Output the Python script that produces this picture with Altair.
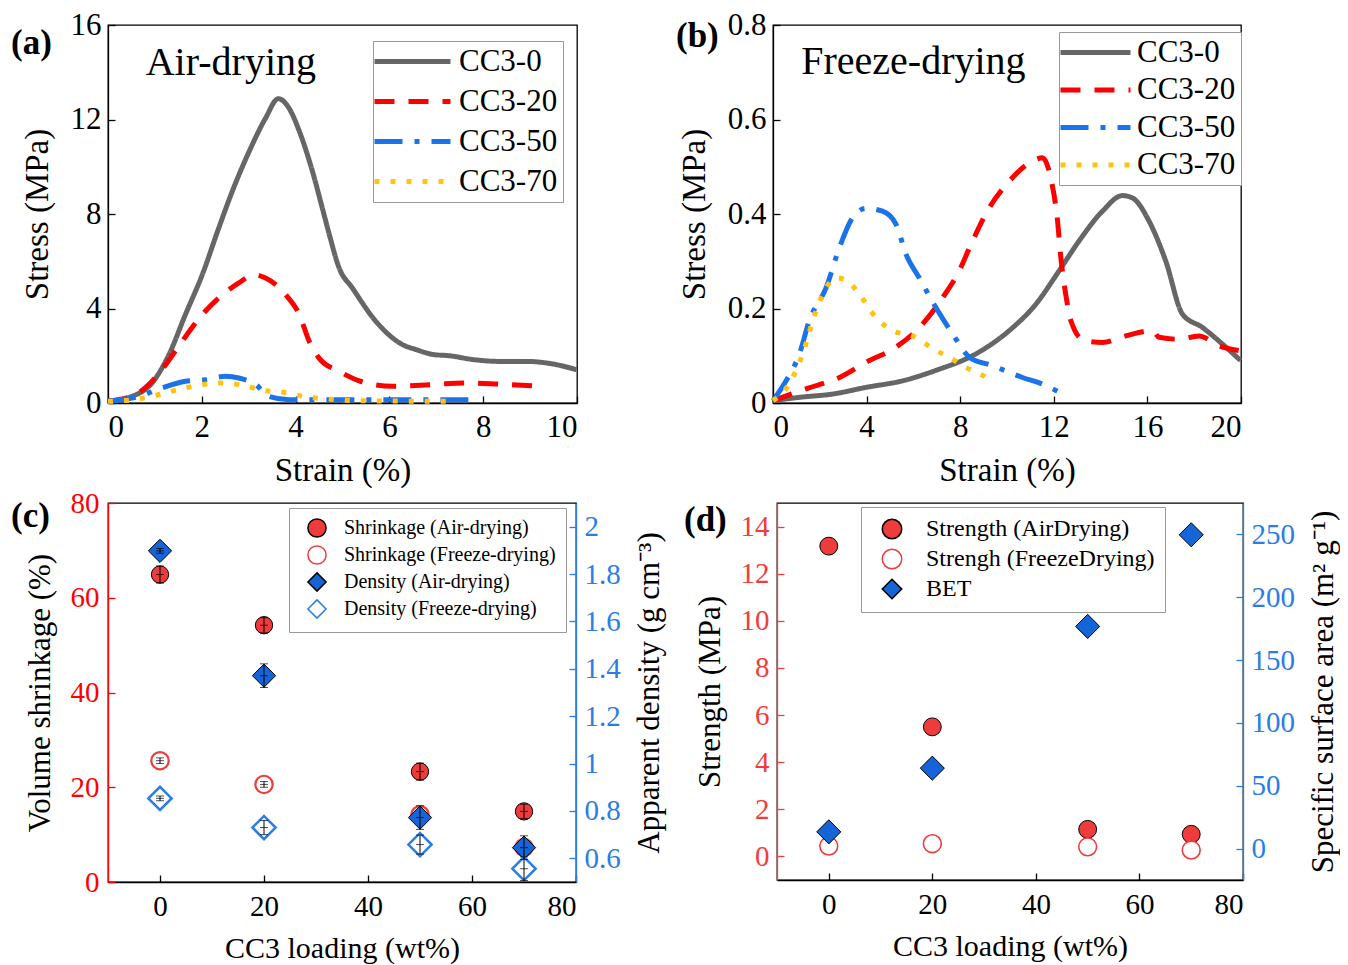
import altair as alt
import pandas as pd

FONT = "Liberation Serif"

# ---------------- (a) Air-drying stress-strain ----------------
SAMPLES = ["CC3-0", "CC3-20", "CC3-50", "CC3-70"]
LINE_COLORS = ["#666666", "#ff0000", "#1a73e8", "#ffc20e"]
LINE_DASHES = [[1, 0], [20, 14], [28, 12, 5, 12], [5, 11]]

a0_x = [0, 0.51, 0.94, 1.30, 1.65, 2.01, 2.36, 2.65, 3.01, 3.36, 3.63, 3.86, 4.08, 4.36, 4.57, 4.72, 4.93, 5.21, 5.71, 6.28, 6.57, 6.94, 7.28, 7.78, 8.35, 8.92, 9.49, 9.99]
a0_y = [0.07, 0.28, 0.85, 2.05, 3.74, 5.43, 7.4, 8.96, 10.65, 12.06, 12.88, 12.48, 11.5, 9.8, 8.25, 7.12, 5.71, 4.87, 3.46, 2.47, 2.26, 2.05, 2.0, 1.84, 1.76, 1.76, 1.65, 1.41]
a20_x = [0, 0.58, 0.94, 1.23, 1.58, 2.01, 2.44, 2.79, 3.11, 3.36, 3.79, 4.08, 4.29, 4.5, 4.93, 5.5, 6.07, 6.92, 7.64, 8.35, 9.27]
a20_y = [0.07, 0.35, 0.92, 1.62, 2.61, 3.74, 4.58, 5.08, 5.43, 5.29, 4.58, 3.74, 2.61, 1.9, 1.34, 0.85, 0.71, 0.78, 0.85, 0.8, 0.71]
a50_x = [0, 0.66, 1.15, 1.65, 2.08, 2.51, 2.79, 3.15, 3.43, 3.86, 4.79, 6.21, 7.85]
a50_y = [0.07, 0.28, 0.64, 0.92, 0.99, 1.13, 1.06, 0.78, 0.28, 0.14, 0.14, 0.14, 0.14]
a70_x = [0, 0.66, 1.01, 1.65, 2.01, 2.36, 2.69, 3.01, 3.36, 3.68, 4.29, 4.64, 5.29, 7.42]
a70_y = [0.07, 0.17, 0.32, 0.64, 0.78, 0.85, 0.8, 0.68, 0.52, 0.47, 0.24, 0.18, 0.1, 0.07]

# ---------------- (b) Freeze-drying stress-strain ----------------
b0_x = [0, 1.13, 2.55, 3.97, 5.54, 6.96, 8.67, 10.09, 11.23, 12.23, 13.08, 14.08, 14.93, 15.36, 16.07, 16.78, 17.5, 18.35, 19.2, 19.98]
b0_y = [0.005, 0.012, 0.019, 0.033, 0.047, 0.069, 0.104, 0.153, 0.209, 0.28, 0.343, 0.406, 0.439, 0.434, 0.385, 0.301, 0.188, 0.16, 0.125, 0.09]
b20_x = [0, 1.41, 2.84, 4.12, 5.12, 6.26, 7.25, 7.96, 8.53, 9.24, 10.09, 10.95, 11.52, 11.87, 12.16, 12.3, 12.51, 12.73, 13.3, 14.08, 15.07, 16.22, 16.5, 17.35, 18.2, 19.06, 19.9]
b20_y = [0.005, 0.03, 0.054, 0.09, 0.114, 0.16, 0.223, 0.28, 0.343, 0.413, 0.469, 0.508, 0.519, 0.476, 0.385, 0.308, 0.23, 0.174, 0.132, 0.128, 0.142, 0.153, 0.139, 0.135, 0.142, 0.121, 0.111]
b50_x = [0, 0.56, 1.13, 1.55, 2.27, 2.84, 3.4, 3.97, 4.68, 5.26, 5.68, 6.25, 6.96, 7.68, 8.39, 9.38, 10.66, 11.52, 12.23]
b50_y = [0.005, 0.047, 0.104, 0.174, 0.244, 0.329, 0.392, 0.412, 0.406, 0.378, 0.315, 0.265, 0.202, 0.146, 0.097, 0.079, 0.054, 0.04, 0.023]
b70_x = [0, 0.49, 0.84, 1.27, 1.77, 2.27, 2.72, 3.19, 3.69, 4.4, 5.12, 5.97, 6.96, 7.53, 8.1, 8.67, 9.17, 9.36]
b70_y = [0.005, 0.026, 0.054, 0.104, 0.185, 0.244, 0.265, 0.258, 0.23, 0.181, 0.153, 0.142, 0.111, 0.097, 0.079, 0.065, 0.051, 0.04]

# ---------------- (c) shrinkage & density ----------------
C_SERIES = ["Shrinkage (Air-drying)", "Shrinkage (Freeze-drying)", "Density (Air-drying)", "Density (Freeze-drying)"]
c_load = [0, 20, 50, 70]
c_shr_air = [64.9, 54.2, 23.3, 14.9]
c_shr_air_err = [1.8, 1.6, 1.8, 1.5]
c_shr_frz = [25.6, 20.6, 14.2, 7.3]
c_shr_frz_err = [0.6, 0.6, 0.8, 0.8]
c_den_air = [1.898, 1.371, 0.772, 0.645]
c_den_air_err = [0.01, 0.05, 0.05, 0.05]
c_den_frz = [0.853, 0.730, 0.658, 0.556]
c_den_frz_err = [0.01, 0.03, 0.04, 0.05]

# ---------------- (d) strength & BET ----------------
D_SERIES = ["Strength (AirDrying)", "Strengh (FreezeDrying)", "BET"]
d_load = [0, 20, 50, 70]
d_str_air = [13.17, 5.5, 1.15, 0.94]
d_str_frz = [0.44, 0.54, 0.41, 0.27]
d_bet = [13.3, 64.0, 176.8, 249.7]

RED_C = "#ff0000"
RED_D = "#f23c3c"
RED_F = "#ee3b3b"
BLUE_AX = "#2a7de6"
BLUE_F = "#1565d8"
BLUE_S = "#2a7de6"

INDEP = dict(color="independent", strokeDash="independent", shape="independent",
             fill="independent", stroke="independent")


def inward(n):
    return alt.ExprRef(expr=str(-n))


def curves_df(items):
    rows = []
    for name, xs, ys in items:
        for i, (x, y) in enumerate(zip(xs, ys)):
            rows.append({"sample": name, "strain": x, "stress": y, "i": i})
    return pd.DataFrame(rows)


def tag(text, dx, dy):
    return alt.Chart(pd.DataFrame({"t": [text]})).mark_text(
        font=FONT, fontSize=35, fontWeight="bold", align="left", baseline="alphabetic", color="black"
    ).encode(text="t:N", x=alt.value(dx), y=alt.value(dy))


def strain_panel(df, xmax, xvals, ymax, yvals, yfmt, ann, ann_x, ann_y, tagtxt, tagy, lx, ly, path, rowpad, loff, w, h):
    X = alt.X("strain:Q", scale=alt.Scale(domain=[0, xmax], nice=False, zero=False),
              axis=alt.Axis(values=xvals, title="Strain (%)", format="d", tickSize=inward(7),
                            labelPadding=16, titlePadding=12, labelFontSize=31, titleFontSize=33))
    Y = alt.Y("stress:Q", scale=alt.Scale(domain=[0, ymax], nice=False, zero=False),
              axis=alt.Axis(values=yvals, title="Stress (MPa)", format=yfmt, tickSize=inward(7),
                            labelPadding=14, titlePadding=16, labelFontSize=31, titleFontSize=33))
    leg = alt.Legend(title=None, orient="none", legendX=lx, legendY=ly, symbolType=path,
                     symbolSize=400, symbolStrokeWidth=5, labelFont=FONT, labelFontSize=31,
                     labelOffset=loff, rowPadding=rowpad, padding=5, strokeColor="#999999",
                     fillColor="white", labelColor="black", labelLimit=400)
    lines = alt.Chart(df).mark_line(strokeWidth=5, strokeCap="butt", strokeJoin="round",
                                    interpolate="monotone").encode(
        x=X, y=Y,
        color=alt.Color("sample:N", scale=alt.Scale(domain=SAMPLES, range=LINE_COLORS), legend=leg),
        strokeDash=alt.StrokeDash("sample:N", scale=alt.Scale(domain=SAMPLES, range=LINE_DASHES), legend=leg),
        order="i:Q",
    )
    txt = alt.Chart(pd.DataFrame({"t": [ann], "strain": [ann_x], "stress": [ann_y]})).mark_text(
        font=FONT, fontSize=40, align="center", baseline="alphabetic", color="black"
    ).encode(x=X, y=Y, text="t:N")
    return alt.layer(lines, txt, tag(tagtxt, -97, tagy)).properties(width=w, height=h)


df_a = curves_df([("CC3-0", a0_x, a0_y), ("CC3-20", a20_x, a20_y), ("CC3-50", a50_x, a50_y), ("CC3-70", a70_x, a70_y)])
df_b = curves_df([("CC3-0", b0_x, b0_y), ("CC3-20", b20_x, b20_y), ("CC3-50", b50_x, b50_y), ("CC3-70", b70_x, b70_y)])

panel_a = strain_panel(df_a, 10, [0, 2, 4, 6, 8, 10], 16, [0, 4, 8, 12, 16], "d", "Air-drying", 2.62, 13.9,
                       "(a)", 29, 265, 16, "M-1.9,0H5.7", 8, 50, 469, 378)
panel_b = strain_panel(df_b, 20, [0, 4, 8, 12, 16, 20], 0.8, [0, 0.2, 0.4, 0.6, 0.8], "~g", "Freeze-drying", 6.0, 0.696,
                       "(b)", 22, 286, 7, "M-1.9,0H5.1", 5.5, 42, 468, 378)


# ---------------- scatter helpers ----------------
def pts_df(series, xs, vals, errs=None):
    rows = []
    for k, (x, v) in enumerate(zip(xs, vals)):
        e = errs[k] if errs else 0
        rows.append({"series": series, "loading": x, "val": v, "lo": v - e, "hi": v + e})
    return pd.DataFrame(rows)


def marker_layers(dfs, X, Y, dom, shapes, fills, strokes, sizes, widths, leg):
    layers = []
    for d, s, sw in zip(dfs, sizes, widths):
        layers.append(alt.Chart(d).mark_point(filled=True, opacity=1, size=s, strokeWidth=sw).encode(
            x=X, y=Y,
            shape=alt.Shape("series:N", scale=alt.Scale(domain=dom, range=shapes), legend=leg),
            fill=alt.Fill("series:N", scale=alt.Scale(domain=dom, range=fills), legend=leg),
            stroke=alt.Stroke("series:N", scale=alt.Scale(domain=dom, range=strokes), legend=leg),
        ))
    return layers


def err_layers(d, X, Yfold):
    rule = alt.Chart(d).mark_rule(color="black", strokeWidth=1).encode(
        x=X, y=Yfold("lo"), y2="hi:Q")
    caps = alt.Chart(d).transform_fold(["lo", "val", "hi"], as_=["k", "v"]).mark_tick(
        orient="horizontal", color="black", size=8, thickness=1).encode(x=X, y=Yfold("v"))
    return [rule, caps]


XL = alt.X("loading:Q", scale=alt.Scale(domain=[-10, 80], nice=False, zero=False),
           axis=alt.Axis(values=[0, 20, 40, 60, 80], title="CC3 loading (wt%)", tickSize=inward(7),
                         labelPadding=17, titlePadding=12, labelFontSize=29, titleFontSize=30))


# ---- panel c ----
def YC_left(field):
    return alt.Y(f"{field}:Q", scale=alt.Scale(domain=[0, 80], nice=False, zero=False),
                 axis=alt.Axis(values=[0, 20, 40, 60, 80], title="Volume shrinkage (%)", tickSize=inward(7),
                               labelPadding=16, titlePadding=14, labelFontSize=29, titleFontSize=31,
                               domainColor=RED_C, tickColor=RED_C, labelColor=RED_C))


def YC_right(field):
    return alt.Y(f"{field}:Q", scale=alt.Scale(domain=[0.5, 2.1], nice=False, zero=False),
                 axis=alt.Axis(values=[0.6, 0.8, 1.0, 1.2, 1.4, 1.6, 1.8, 2.0], format="~g", orient="right",
                               title="Apparent density (g cm⁻³)", tickSize=inward(7),
                               labelPadding=15, titlePadding=14, labelFontSize=29, titleFontSize=31,
                               titleAngle=270, titleBaseline="top",
                               domainColor=BLUE_AX, tickColor=BLUE_AX, labelColor=BLUE_AX))


leg_c = alt.Legend(title=None, orient="none", legendX=181, legendY=5, symbolSize=330, symbolStrokeWidth=1.5,
                   symbolOffset=8, labelFont=FONT, labelFontSize=20, labelOffset=17, rowPadding=1, padding=10,
                   strokeColor="#999999", fillColor="white", labelColor="black", labelLimit=400)
C_SHAPES = ["circle", "circle", "diamond", "diamond"]
C_FILLS = [RED_F, "white", BLUE_F, "white"]
C_STROKES = ["black", RED_F, "black", BLUE_S]

c_sa = pts_df(C_SERIES[0], c_load, c_shr_air, c_shr_air_err)
c_sf = pts_df(C_SERIES[1], c_load, c_shr_frz, c_shr_frz_err)
c_da = pts_df(C_SERIES[2], c_load, c_den_air, c_den_air_err)
c_df = pts_df(C_SERIES[3], c_load, c_den_frz, c_den_frz_err)

c_left = alt.layer(
    *marker_layers([c_sa, c_sf], XL, YC_left("val"), C_SERIES, C_SHAPES, C_FILLS, C_STROKES, [300, 300], [1, 2.2], leg_c),
    *err_layers(pd.concat([c_sa, c_sf]), XL, YC_left),
    tag("(c)", -97, 24),
)
c_right = alt.layer(
    *marker_layers([c_da, c_df], XL, YC_right("val"), C_SERIES, C_SHAPES, C_FILLS, C_STROKES, [540, 540], [1, 2.5], leg_c),
    *err_layers(pd.concat([c_da, c_df]), XL, YC_right),
)
panel_c = alt.layer(c_left, c_right).resolve_scale(y="independent").properties(width=468, height=379)


# ---- panel d ----
def YD_left(field):
    return alt.Y(f"{field}:Q", scale=alt.Scale(domain=[-1, 15], nice=False, zero=False),
                 axis=alt.Axis(values=[0, 2, 4, 6, 8, 10, 12, 14], title="Strength (MPa)", tickSize=inward(7),
                               labelPadding=15, titlePadding=14, labelFontSize=29, titleFontSize=31,
                               domainColor=RED_D, tickColor=RED_D, labelColor=RED_D))


def YD_right(field):
    return alt.Y(f"{field}:Q", scale=alt.Scale(domain=[-25, 275], nice=False, zero=False),
                 axis=alt.Axis(values=[0, 50, 100, 150, 200, 250], orient="right",
                               title="Specific surface area (m² g⁻¹)", tickSize=inward(7),
                               labelPadding=15, titlePadding=14, labelFontSize=29, titleFontSize=31,
                               titleAngle=270, titleBaseline="top",
                               domainColor=BLUE_AX, tickColor=BLUE_AX, labelColor=BLUE_AX))


leg_d = alt.Legend(title=None, orient="none", legendX=84, legendY=4, symbolSize=380, symbolStrokeWidth=1.5,
                   symbolOffset=9, labelFont=FONT, labelFontSize=24, labelOffset=22, rowPadding=4, padding=10,
                   strokeColor="#999999", fillColor="white", labelColor="black", labelLimit=400)
D_SHAPES = ["circle", "circle", "diamond"]
D_FILLS = [RED_F, "white", BLUE_F]
D_STROKES = ["black", RED_F, "black"]

d_sa = pts_df(D_SERIES[0], d_load, d_str_air)
d_sf = pts_df(D_SERIES[1], d_load, d_str_frz)
d_bt = pts_df(D_SERIES[2], d_load, d_bet)

d_left = alt.layer(
    *marker_layers([d_sa, d_sf], XL, YD_left("val"), D_SERIES, D_SHAPES, D_FILLS, D_STROKES, [320, 320], [1, 1.6], leg_d),
    tag("(d)", -93, 28),
)
d_right = alt.layer(
    *marker_layers([d_bt], XL, YD_right("val"), D_SERIES, D_SHAPES, D_FILLS, D_STROKES, [580], [1], leg_d),
)
panel_d = alt.layer(d_left, d_right).resolve_scale(y="independent").properties(width=466, height=377)

row1 = alt.hconcat(panel_a, panel_b, spacing=95).resolve_scale(**INDEP).resolve_legend(**INDEP)
row2 = alt.hconcat(panel_c, panel_d, spacing=18).resolve_scale(**INDEP).resolve_legend(**INDEP)

chart = alt.vconcat(row1, row2, spacing=0).resolve_scale(**INDEP).resolve_legend(**INDEP).properties(
    padding={"left": 2, "top": 0, "right": 0, "bottom": 0}
).configure_view(stroke="black", strokeWidth=1.3).configure_axis(
    labelFont=FONT, titleFont=FONT, titleFontWeight="normal", labelColor="black", titleColor="black",
    domainColor="black", domainWidth=1.3, tickColor="black", tickWidth=1.3, grid=False
)

chart.save("out.html", embed_options={"renderer": "svg", "actions": False})
